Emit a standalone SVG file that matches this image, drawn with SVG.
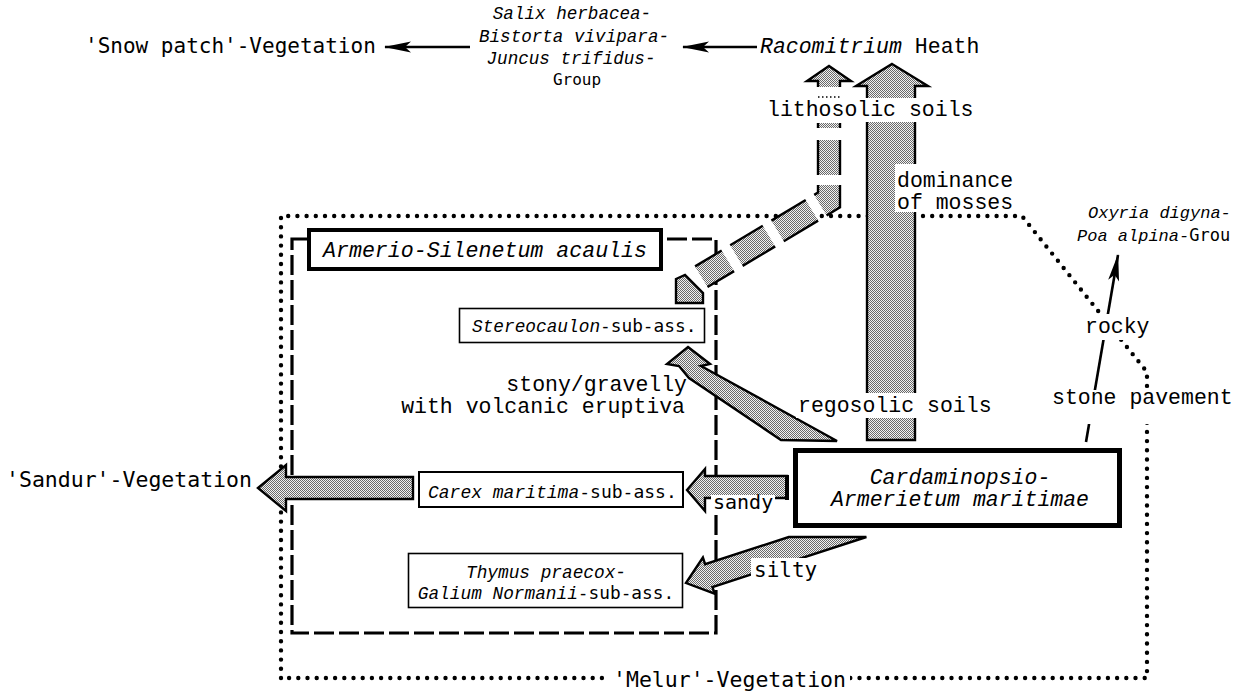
<svg xmlns="http://www.w3.org/2000/svg" width="1244" height="694" viewBox="0 0 1244 694">
<defs>
<pattern id="stip" width="2" height="2" patternUnits="userSpaceOnUse"><rect width="2" height="2" fill="#f2f2f2"/><rect width="1" height="1" fill="#6a6a6a"/><rect x="1" y="1" width="1" height="1" fill="#6a6a6a"/></pattern>
<marker id="ah" viewBox="0 0 30 14" markerUnits="userSpaceOnUse" markerWidth="30" markerHeight="14" refX="29" refY="7" orient="auto"><path d="M30,7 L3,1.5 L9,7 L3,12.5 Z" fill="#000"/></marker>
<style>
.cm{font-family:'Liberation Mono','Courier New',monospace;fill:#000}
.gm{font-family:'DejaVu Sans Mono','Liberation Mono',monospace;fill:#000}
.it{font-style:italic}
.s21{font-size:21.5px}
.s18{font-size:17.8px}
.dot{fill:none;stroke:#000;stroke-width:4.4;stroke-linecap:round;stroke-dasharray:0 9.2}
.dash{fill:none;stroke:#000;stroke-width:3.2;stroke-dasharray:20 5}
.fat{fill:url(#stip);stroke:#000;stroke-width:2.4;stroke-linejoin:miter}
.fill{fill:url(#stip);stroke:none}
.edge{fill:none;stroke:#000;stroke-width:2.4}
.thin{fill:none;stroke:#000;stroke-width:2.6}
.box{fill:#fff;stroke:#000}
.bg{fill:#fff}
</style>
</defs>
<rect width="1244" height="694" fill="#fff"/>

<g id="melur-region">
<path class="dot" d="M281,678 V216 H1022 L1147,372 V678 Z"/>
</g>
<g id="armerio-silenetum-region">
<rect class="dash" x="292" y="239" width="424" height="394"/>
</g>

<g id="connectors">
<line class="thin" x1="470" y1="47" x2="385" y2="47" marker-end="url(#ah)"/>
<line class="thin" x1="757" y1="47" x2="683" y2="47" marker-end="url(#ah)"/>
<path class="thin" d="M1086,442 L1118,255" stroke-width="3" marker-end="url(#ah)"/>
<polygon class="fat" points="892,64 928,86 915,86 915,440 867,440 867,86 856,86"/>
<g id="dashed-arrow">
<polygon class="fill" points="807,81 829,66 851,81 840,81 840,87 818,87 818,81"/>
<path class="edge" d="M818,87 V81 H807 L829,66 L851,81 H840 V87"/>
<path d="M818,97 H840" fill="none" stroke="#000" stroke-width="1.5" stroke-dasharray="1.5 2.5"/>
<rect class="fill" x="818" y="123" width="22" height="5"/>
<path class="edge" d="M818,123 V128 M840,123 V128"/>
<rect class="fill" x="818" y="140" width="22" height="35"/>
<path class="edge" d="M818,140 V175 M840,140 V175"/>
<polygon class="fill" points="818,185 840,185 840,207.4 826.6,215.5 814.2,194.9 818,192.6"/>
<path class="edge" d="M818,185 V192.6 L814.2,194.9 M840,185 V207.4 L826.6,215.5"/>
<polygon class="fill" points="805.7,200 771.4,220.6 783.8,241.2 818.1,220.6"/>
<path class="edge" d="M805.7,200 L771.4,220.6 M818.1,220.6 L783.8,241.2"/>
<polygon class="fill" points="762.8,225.8 730.2,245.3 742.6,265.9 775.2,246.4"/>
<path class="edge" d="M762.8,225.8 L730.2,245.3 M775.2,246.4 L742.6,265.9"/>
<polygon class="fill" points="721.7,250.5 695.1,266.4 707.5,287 734.1,271.1"/>
<path class="edge" d="M721.7,250.5 L695.1,266.4 M734.1,271.1 L707.5,287"/>
<polygon class="fat" points="676,279 685,275 703,293 703,303 676,303"/>
</g>
<polygon class="fat" points="688,347 710,364 701,366 837,441 781,440 689,378 679,366 667,364"/>
<polygon class="fat" points="687,490 705,469 705,476 787,476 787,498 705,498 705,511"/>
<path d="M787,475 V500" stroke="#000" stroke-width="4"/>
<polygon class="fat" points="258,488 286,465 286,477 413,477 413,499 286,499 286,511"/>
<polygon class="fat" points="686,583 702.9,557.5 705.1,564.2 788.8,537 866.4,537 712.5,587 714.7,593.7"/>
</g>

<g id="labels">
<rect class="bg" x="764" y="98" width="212" height="24"/>
<text class="cm s21" x="767" y="116">lithosolic soils</text>
<rect class="bg" x="895" y="164" width="121" height="48"/>
<text class="cm s21" x="897" y="187">dominance</text>
<text class="cm s21" x="897" y="209">of mosses</text>
<rect class="bg" x="796" y="393" width="198" height="25"/>
<text class="cm s21" x="798" y="412">regosolic soils</text>
<rect class="bg" x="1083" y="314" width="67" height="26"/>
<text class="cm s21" x="1085" y="333">rocky</text>
<rect class="bg" x="1050" y="390" width="184" height="34"/>
<text class="cm s21" x="1052" y="404">stone pavement</text>
<text class="cm s21" x="687" y="391" text-anchor="end">stony/gravelly</text>
<text class="cm s21" x="685" y="413" text-anchor="end">with volcanic eruptiva</text>
<rect class="bg" x="711" y="495" width="64" height="18"/>
<text class="gm" font-size="20" x="713" y="509">sandy</text>
<rect class="bg" x="751" y="558" width="71" height="24"/>
<text class="gm" font-size="21" x="754" y="577">silty</text>
<rect class="bg" x="608" y="668" width="242" height="22"/>
<text class="gm" font-size="21.5" x="613" y="687">'Melur'-Vegetation</text>
</g>

<g id="snow-patch">
<text class="gm" font-size="21" x="85" y="53">'Snow patch'-Vegetation</text>
</g>
<g id="salix-group">
<text class="cm it" font-size="17.6" x="572" y="19" text-anchor="middle">Salix herbacea-</text>
<text class="cm it" font-size="17.6" x="574" y="42" text-anchor="middle">Bistorta vivipara-</text>
<text class="cm it" font-size="17.6" x="571" y="64" text-anchor="middle">Juncus trifidus-</text>
<text class="gm" font-size="16" x="577" y="85" text-anchor="middle">Group</text>
</g>
<g id="racomitrium">
<text class="cm s21" x="760" y="53"><tspan class="it">Racomitrium</tspan> Heath</text>
</g>
<g id="oxyria">
<text class="cm it" font-size="17" x="1088" y="218">Oxyria digyna-</text>
<text class="cm" font-size="17" x="1077" y="241"><tspan class="it">Poa alpina-</tspan><tspan class="gm">Grou</tspan></text>
</g>
<g id="armerio-silenetum">
<rect class="box" x="309" y="230" width="352" height="39" stroke-width="4"/>
<text class="cm it" font-size="21.6" x="323" y="257">Armerio-Silenetum acaulis</text>
</g>
<g id="stereocaulon">
<rect class="box" x="459.5" y="308.5" width="245" height="34" stroke-width="1.6"/>
<text class="cm s18" x="472" y="332"><tspan class="it">Stereocaulon</tspan><tspan class="gm">-sub-ass.</tspan></text>
</g>
<g id="carex">
<rect class="box" x="419" y="472" width="264" height="35" stroke-width="2"/>
<text class="cm" font-size="18" x="428" y="498"><tspan class="it">Carex maritima</tspan><tspan class="gm">-sub-ass.</tspan></text>
</g>
<g id="thymus">
<rect class="box" x="408.5" y="553.5" width="274" height="54" stroke-width="1.6"/>
<text class="cm it s18" x="546" y="578" text-anchor="middle">Thymus praecox-</text>
<text class="cm s18" x="546" y="599" text-anchor="middle"><tspan class="it">Galium Normanii</tspan><tspan class="gm">-sub-ass.</tspan></text>
</g>
<g id="sandur">
<text class="gm" font-size="21.5" x="6" y="487">'Sandur'-Vegetation</text>
</g>
<g id="cardaminopsio">
<rect class="box" x="795.5" y="450.5" width="324" height="75" stroke-width="5"/>
<text class="cm it s21" x="960" y="484" text-anchor="middle">Cardaminopsio-</text>
<text class="cm it s21" x="960" y="506" text-anchor="middle">Armerietum maritimae</text>
</g>
</svg>
